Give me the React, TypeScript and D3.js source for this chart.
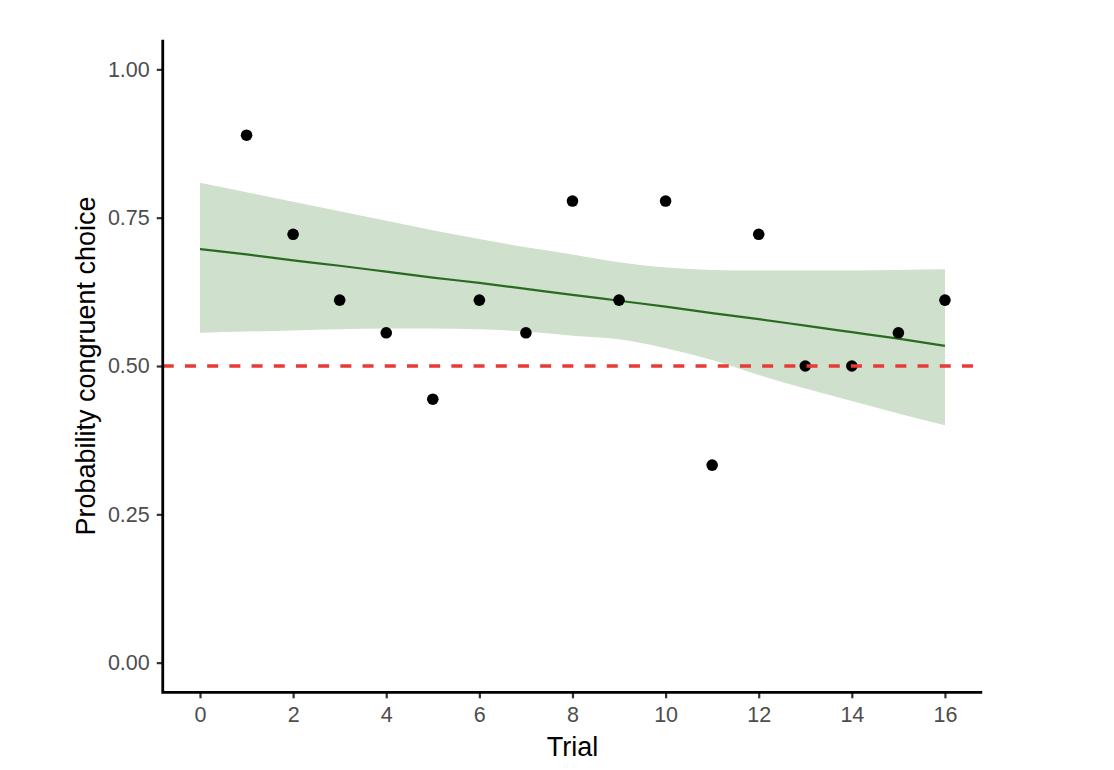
import * as d3 from 'd3';
import React, { useEffect } from 'react';

// observed proportion of congruent choices per trial
const trials = [1, 2, 3, 4, 5, 6, 7, 8, 9, 10, 11, 12, 13, 14, 15, 16];
const proportions = [
  0.889, 0.722, 0.611, 0.556, 0.444, 0.611, 0.556, 0.778, 0.611, 0.778, 0.333,
  0.722, 0.5, 0.5, 0.556, 0.611,
];

// fitted curve and confidence band, read at trials 0..16
const fitTrials = [0, 1, 2, 3, 4, 5, 6, 7, 8, 9, 10, 11, 12, 13, 14, 15, 16];
const fitValues = [
  0.697, 0.688, 0.678, 0.669, 0.659, 0.649, 0.64, 0.63, 0.62, 0.61, 0.6, 0.589,
  0.579, 0.568, 0.557, 0.546, 0.534,
];
const bandUpper = [
  0.809, 0.793, 0.777, 0.761, 0.745, 0.729, 0.714, 0.7, 0.688, 0.675, 0.666,
  0.662, 0.661, 0.661, 0.661, 0.662, 0.663,
];
const bandLower = [
  0.556, 0.558, 0.56, 0.562, 0.563, 0.563, 0.562, 0.558, 0.551, 0.545, 0.53,
  0.51, 0.485, 0.462, 0.441, 0.42, 0.4,
];

const xTicks = [0, 2, 4, 6, 8, 10, 12, 14, 16];
const yTicks = [0, 0.25, 0.5, 0.75, 1];
const chanceLevel = 0.5;

export default function App() {
  const ref = React.useRef<HTMLDivElement>(null);

  useEffect(() => {
    if (!ref.current) return;
    ref.current.innerHTML = '';

    const width = 1114;
    const height = 770;
    const font = '"Liberation Sans", Arial, sans-serif';

    const x = d3.scaleLinear().domain([-0.8, 16.8]).range([162.75, 982.2]);
    const y = d3.scaleLinear().domain([-0.05, 1.05]).range([692.3, 39.7]);
    const [left, right] = x.range();
    const [bottom, top] = y.range();

    const svg = d3
      .select(ref.current)
      .append('svg')
      .attr('width', width)
      .attr('height', height)
      .style('position', 'absolute')
      .style('left', '0px')
      .style('top', '0px')
      .style('background', '#fff');

    // confidence band
    const band = fitTrials.map((t, i) => ({ t, lo: bandLower[i], hi: bandUpper[i] }));
    svg
      .append('path')
      .datum(band)
      .attr(
        'd',
        d3
          .area<{ t: number; lo: number; hi: number }>()
          .x(d => x(d.t))
          .y0(d => y(d.lo))
          .y1(d => y(d.hi))
          .curve(d3.curveMonotoneX)
      )
      .attr('fill', '#cfe0cc');

    // fitted line
    const fit = fitTrials.map((t, i) => ({ t, v: fitValues[i] }));
    svg
      .append('path')
      .datum(fit)
      .attr(
        'd',
        d3
          .line<{ t: number; v: number }>()
          .x(d => x(d.t))
          .y(d => y(d.v))
          .curve(d3.curveMonotoneX)
      )
      .attr('fill', 'none')
      .attr('stroke', '#2a6a22')
      .attr('stroke-width', 2.2);

    // points
    svg
      .selectAll('circle')
      .data(trials.map((t, i) => ({ t, v: proportions[i] })))
      .enter()
      .append('circle')
      .attr('cx', d => x(d.t))
      .attr('cy', d => y(d.v))
      .attr('r', 5.8)
      .attr('fill', '#000');

    // chance line
    svg
      .append('line')
      .attr('x1', left)
      .attr('x2', right)
      .attr('y1', y(chanceLevel))
      .attr('y2', y(chanceLevel))
      .attr('stroke', '#e63b36')
      .attr('stroke-width', 3.4)
      .attr('stroke-dasharray', '11 11.2');

    // axes (ticks + labels from d3, axis lines drawn separately)
    const yAxis = svg
      .append('g')
      .attr('transform', `translate(${left},0)`)
      .call(
        d3
          .axisLeft(y)
          .tickValues(yTicks)
          .tickFormat(d3.format('.2f'))
          .tickSizeOuter(0)
          .tickSize(6)
          .tickPadding(7)
      );
    const xAxis = svg
      .append('g')
      .attr('transform', `translate(0,${bottom})`)
      .call(
        d3
          .axisBottom(x)
          .tickValues(xTicks)
          .tickFormat(d3.format('d'))
          .tickSizeOuter(0)
          .tickSize(6)
          .tickPadding(8)
      );

    [yAxis, xAxis].forEach(g => {
      g.select('.domain').remove();
      g.selectAll('.tick line').attr('stroke', '#333').attr('stroke-width', 2.2);
      g.selectAll('.tick text')
        .attr('fill', '#4d4d4d')
        .style('font-family', font)
        .style('font-size', '21.5px');
    });

    svg
      .append('path')
      .attr('d', `M${left},${top}V${bottom}H${right}`)
      .attr('fill', 'none')
      .attr('stroke', '#000')
      .attr('stroke-width', 2.8)
      .attr('stroke-linejoin', 'miter');

    // axis titles
    svg
      .append('text')
      .attr('x', (left + right) / 2)
      .attr('y', 756)
      .attr('text-anchor', 'middle')
      .style('font-family', font)
      .style('font-size', '27px')
      .attr('fill', '#000')
      .text('Trial');
    svg
      .append('text')
      .attr('transform', `translate(95,${(bottom + top) / 2}) rotate(-90)`)
      .attr('text-anchor', 'middle')
      .style('font-family', font)
      .style('font-size', '27px')
      .attr('fill', '#000')
      .text('Probability congruent choice');
  }, []);

  return <div ref={ref}></div>;
}
